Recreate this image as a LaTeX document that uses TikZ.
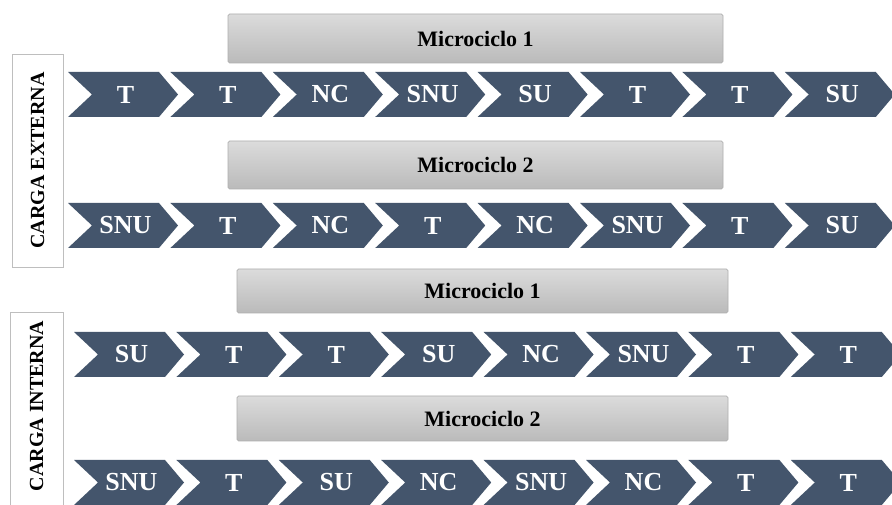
\documentclass[tikz,border=0pt]{standalone}
\usepackage{fontspec}
\setmainfont{Liberation Serif}
\definecolor{chev}{RGB}{68,85,108}
\definecolor{barline}{RGB}{175,175,175}
\definecolor{boxline}{RGB}{190,190,190}
\tikzset{
  chevfill/.style={fill=chev},
  chevtext/.style={text=white,font=\bfseries\fontsize{19.5}{22}\selectfont,inner sep=0pt,anchor=center},
  microbar/.style={draw=barline,line width=0.6pt,rounded corners=1.2pt,top color=black!14,bottom color=black!27,
    font=\bfseries\fontsize{16.5}{19}\selectfont,inner sep=0pt},
  sidebox/.style={draw=boxline,line width=0.7pt,fill=white},
  sidetext/.style={font=\bfseries\fontsize{15}{17}\selectfont,rotate=90,inner sep=0pt}
}
\newcommand\chevrow[4]{%
  \foreach \lab [count=\i from 0] in {#3} {
    \pgfmathsetmacro\xa{#1+\i*102.4}
    \fill[chevfill] (\xa,#2) -- ++(91,0) -- ++(19,22.5) -- ++(-19,22.5) -- ++(-91,0) -- ++(24,-22.5) -- cycle;
    \node[chevtext] (#4\i) at (\xa+57.5,#2+22.5) {\lab};
  }}
\begin{document}
\begin{tikzpicture}[x=0.75pt,y=-0.75pt]
\clip (0,0) rectangle (892,505);
\fill[white] (0,0) rectangle (892,505);
% side boxes
\draw[sidebox] (12,54) rectangle (63,267);
\node[sidetext] (lext) at (37.5,160.5) {CARGA EXTERNA};
\draw[sidebox] (10,312) rectangle (63,520);
\node[sidetext] (lint) at (36.5,406) {CARGA INTERNA};
% bars
\node[microbar,minimum width=371.25pt,minimum height=36.75pt] (b1) at (475.5,38.5) {Microciclo 1};
\node[microbar,minimum width=371.25pt,minimum height=36pt] (b2) at (475.5,165) {Microciclo 2};
\node[microbar,minimum width=368.25pt,minimum height=33pt] (b3) at (482.5,291) {Microciclo 1};
\node[microbar,minimum width=368.25pt,minimum height=33.75pt] (b4) at (482.5,418.5) {Microciclo 2};
% chevron rows
\chevrow{68}{72}{T,T,NC,SNU,SU,T,T,SU}{ra}
\chevrow{68}{203}{SNU,T,NC,T,NC,SNU,T,SU}{rb}
\chevrow{74}{332}{SU,T,T,SU,NC,SNU,T,T}{rc}
\chevrow{74}{460}{SNU,T,SU,NC,SNU,NC,T,T}{rd}
\end{tikzpicture}
\end{document}
